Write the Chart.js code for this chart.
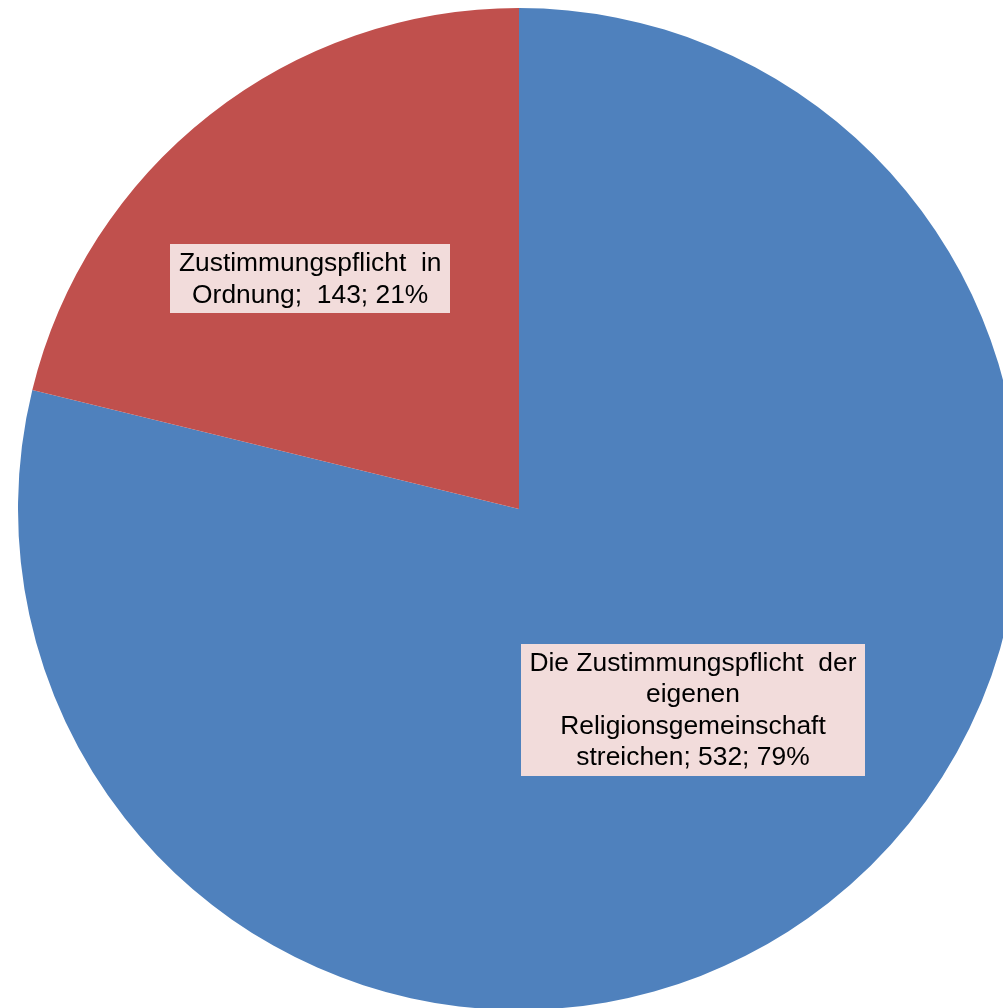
<!DOCTYPE html>
<html>
<head>
<meta charset="utf-8">
<script src="https://cdn.jsdelivr.net/npm/chart.js@4"></script>
<style>
  html, body { margin: 0; padding: 0; background: #fff; overflow: hidden; }
  #wrap { position: relative; width: 1038px; height: 1018px; }
</style>
</head>
<body>
<div id="wrap"><canvas id="pie"></canvas></div>
<script>
const categories = [
  'Die Zustimmungspflicht der eigenen Religionsgemeinschaft streichen',
  'Zustimmungspflicht in Ordnung'
];
const values = [532, 143];
const percents = ['79%', '21%'];
const colors = ['#4F81BD', '#C0504D'];
// label text as wrapped in the original
const labelLines = [
  ['Die Zustimmungspflicht  der', 'eigenen', 'Religionsgemeinschaft', 'streichen; 532; 79%'],
  ['Zustimmungspflicht  in', 'Ordnung;  143; 21%']
];
// where the label sits along the slice's mid angle (fraction of radius) + nudge
const labelPlace = [
  { r: 0.53, dx: 10, dy: -8 },
  { r: 0.62, dx: -17, dy: 14 }
];

const boxLabels = {
  id: 'boxLabels',
  afterDatasetsDraw(chart) {
    const ctx = chart.ctx;
    const meta = chart.getDatasetMeta(0);
    const stretch = 1.015;
    ctx.save();
    ctx.font = '26px "Liberation Sans", Arial, sans-serif';
    ctx.textAlign = 'center';
    ctx.textBaseline = 'middle';
    const lh = 31.5;
    meta.data.forEach((arc, i) => {
      const p = arc.getProps(['x', 'y', 'startAngle', 'endAngle', 'outerRadius'], true);
      const mid = (p.startAngle + p.endAngle) / 2;
      const cx = p.x + Math.cos(mid) * p.outerRadius * labelPlace[i].r + labelPlace[i].dx;
      const cy = p.y + Math.sin(mid) * p.outerRadius * labelPlace[i].r + labelPlace[i].dy;
      const lines = labelLines[i];
      const w = Math.max(...lines.map(l => ctx.measureText(l).width)) * stretch + 17;
      const h = lines.length * lh + 6;
      ctx.fillStyle = '#F2DCDB';
      ctx.fillRect(Math.round(cx - w / 2), Math.round(cy - h / 2), Math.round(w), Math.round(h));
      ctx.fillStyle = '#000';
      lines.forEach((l, k) => {
        ctx.save();
        ctx.translate(cx, cy - h / 2 + 3 + lh * k + lh / 2 + 1);
        ctx.scale(stretch, 1);
        ctx.fillText(l, 0, 0);
        ctx.restore();
      });
    });
    ctx.restore();
  }
};

new Chart(document.getElementById('pie'), {
  type: 'pie',
  data: {
    labels: categories,
    datasets: [{
      data: values,
      backgroundColor: colors,
      borderWidth: 0
    }]
  },
  options: {
    responsive: true,
    maintainAspectRatio: false,
    animation: false,
    layout: { padding: 8 },
    plugins: {
      legend: { display: false },
      tooltip: { enabled: false }
    }
  },
  plugins: [boxLabels]
});
</script>
</body>
</html>
